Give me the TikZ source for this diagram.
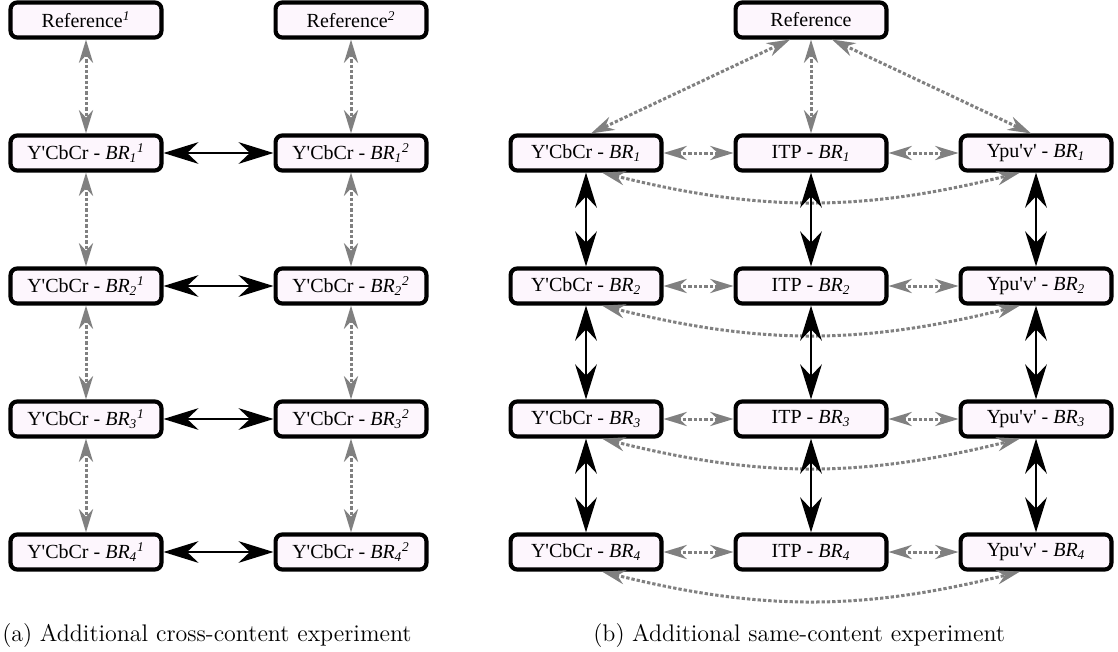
\documentclass[tikz,border=0pt]{standalone}
\usepackage{fontspec}
\newfontfamily\boxfont{Liberation Serif}[Ligatures=TeXOff]
\usepackage{tikz}
\usetikzlibrary{positioning,arrows.meta}

\definecolor{fundo}{RGB}{253,246,253}
\definecolor{cinza}{RGB}{128,128,128}
\newcommand{\brx}[2]{\textit{BR\textsubscript{#1}\textsuperscript{#2}}}

\begin{document}
\begin{tikzpicture}[
      font=\boxfont\fontsize{12}{14}\selectfont,
      bloco/.style={draw, line width=2.5pt, rounded corners=4pt, fill=fundo,
                    minimum width=90.5pt, minimum height=21pt, inner sep=2pt},
      seta/.style={{Stealth[length=21pt,width=13pt]}-{Stealth[length=21pt,width=13pt]},
                   line width=1.5pt},
      ponto/.style={{Stealth[length=14pt,width=8.5pt]}-{Stealth[length=14pt,width=8.5pt]},
                    cinza, line width=1.8pt, dash pattern=on 2pt off 1.2pt},
      legenda/.style={font=\normalfont\fontsize{14.4}{17}\selectfont,
                      anchor=base west, inner sep=0pt}
    ]
    \useasboundingbox (-51.6pt,12pt) rectangle (619.2pt,-378.6pt);

    % (a) cross-content
    \node[bloco] (r1) {Reference\textsuperscript{\textit{1}}};
    \node[bloco, right=66pt of r1] (r2) {Reference\textsuperscript{\textit{2}}};
    \node[bloco, below=56.3pt of r1] (a1) {Y'CbCr - \brx{1}{1}};
    \node[bloco, below=56.3pt of r2] (b1) {Y'CbCr - \brx{1}{2}};
    \node[bloco, below=56.3pt of a1] (a2) {Y'CbCr - \brx{2}{1}};
    \node[bloco, below=56.3pt of b1] (b2) {Y'CbCr - \brx{2}{2}};
    \node[bloco, below=56.3pt of a2] (a3) {Y'CbCr - \brx{3}{1}};
    \node[bloco, below=56.3pt of b2] (b3) {Y'CbCr - \brx{3}{2}};
    \node[bloco, below=56.3pt of a3] (a4) {Y'CbCr - \brx{4}{1}};
    \node[bloco, below=56.3pt of b3] (b4) {Y'CbCr - \brx{4}{2}};

    \foreach \x/\y in {r1/a1, a1/a2, a2/a3, a3/a4, r2/b1, b1/b2, b2/b3, b3/b4}
      {\draw[ponto] (\x) -- (\y);}
    \foreach \i in {1,...,4} {\draw[seta] (a\i) -- (b\i);}

    % (b) same-content
    \node[bloco, right=183pt of r2] (ref) {Reference};
    \node[bloco, below=56.3pt of ref] (t1) {ITP - \textit{BR\textsubscript{1}}};
    \node[bloco, left=42pt of t1] (y1) {Y'CbCr - \textit{BR\textsubscript{1}}};
    \node[bloco, right=42pt of t1] (p1) {Ypu'v' - \textit{BR\textsubscript{1}}};
    \foreach \i/\j in {1/2, 2/3, 3/4} {
      \node[bloco, below=56.3pt of t\i] (t\j) {ITP - \textit{BR\textsubscript{\j}}};
      \node[bloco, below=56.3pt of y\i] (y\j) {Y'CbCr - \textit{BR\textsubscript{\j}}};
      \node[bloco, below=56.3pt of p\i] (p\j) {Ypu'v' - \textit{BR\textsubscript{\j}}};
    }

    \draw[ponto] (ref) -- (t1);
    \draw[ponto] ([xshift=-12.6pt]ref.south) -- ([xshift=3pt]y1.north);
    \draw[ponto] ([xshift=12.6pt]ref.south) -- ([xshift=-3pt]p1.north);
    \foreach \i in {1,...,4} {
      \draw[ponto] (y\i) -- (t\i);
      \draw[ponto] (t\i) -- (p\i);
      \draw[ponto] ([xshift=9.6pt]y\i.south) to[bend right=14] ([xshift=-9.6pt]p\i.south);
    }
    \foreach \i/\j in {1/2, 2/3, 3/4}
      {\draw[seta] (y\i) -- (y\j); \draw[seta] (t\i) -- (t\j); \draw[seta] (p\i) -- (p\j);}

    \node[legenda] (capa) at (-50.4pt,-372.6pt) {(a)\hspace{4.5pt}Additional cross-content experiment};
    \node[legenda] (capb) at (304.2pt,-372.6pt) {(b)\hspace{4.5pt}Additional same-content experiment};
  \end{tikzpicture}
\end{document}
